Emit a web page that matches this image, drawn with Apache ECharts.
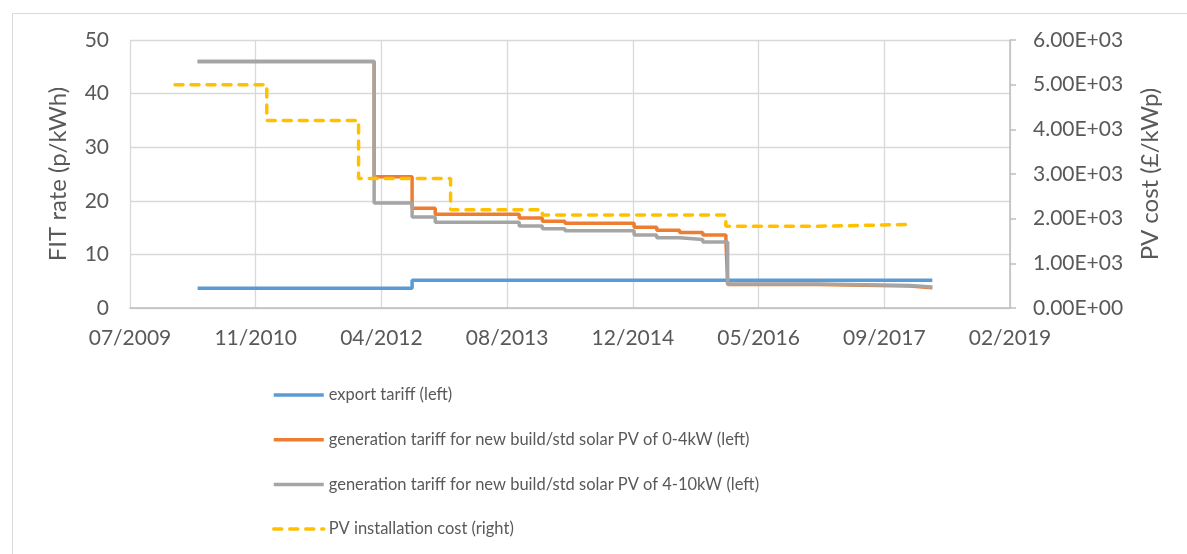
<!DOCTYPE html>
<html>
<head>
<meta charset="utf-8">
<script src="https://cdn.jsdelivr.net/npm/echarts@6/dist/echarts.min.js"></script>
<style>
  html, body { margin: 0; padding: 0; background: #fff; }
  #chart { width: 1187px; height: 554px; }
</style>
</head>
<body>
<div id="chart"></div>
<script>
// dates where each value starts (step lines), last date = end of the line
var exportDates = ['2010-04-01', '2012-08-01', '2018-04-01'];
var exportRate = [3.7, 5.2, 5.2];

var gen04Dates = ['2010-04-01', '2012-03-03', '2012-08-01', '2012-11-01', '2013-10-01', '2014-01-01',
    '2014-04-01', '2015-01-01', '2015-04-01', '2015-07-01', '2015-10-01', '2016-01-01',
    '2016-01-08', '2017-01-01', '2018-01-01', '2018-04-01'];
var gen04Rate = [46, 24.5, 18.6, 17.5, 16.8, 16.2, 15.8, 15.05, 14.5, 14.1, 13.6, 12.9,
    4.4, 4.1, 3.8, 3.8];

var gen410Dates = ['2010-04-01', '2012-03-03', '2012-08-01', '2012-11-01', '2013-10-01', '2014-01-01',
    '2014-04-01', '2015-01-01', '2015-04-01', '2015-07-01', '2015-10-01',
    '2016-01-08', '2017-01-01', '2018-01-01', '2018-04-01'];
var gen410Rate = [46, 19.6, 17.0, 16.0, 15.3, 14.8, 14.4, 13.6, 13.1, 12.8, 12.3,
    4.5, 4.2, 3.9, 3.9];

var pvDates = ['2010-01-01', '2011-01-01', '2012-01-01', '2013-01-01', '2014-01-01',
    '2016-01-01', '2017-01-01', '2018-01-01'];
var pvCost = [5000, 4200, 2900, 2200, 2080, 1830, 1870, 1870];

var seriesNames = [
    'export tariff (left)',
    'generation tariff for new build/std solar PV of 0-4kW (left)',
    'generation tariff for new build/std solar PV of 4-10kW (left)',
    'PV installation cost (right)'
];

// excel style day numbers so the axis ticks fall on the same days
var DAY = 24 * 3600 * 1000;
var BASE = Date.UTC(1899, 11, 30);
function serial(s) {
    var p = s.split('-');
    return Math.round((Date.UTC(+p[0], +p[1] - 1, +p[2]) - BASE) / DAY);
}
function pairs(dates, vals) {
    return dates.map(function (d, i) { return [serial(d), vals[i]]; });
}
function monthYear(v) {
    var d = new Date(BASE + v * DAY);
    var m = d.getUTCMonth() + 1;
    return (m < 10 ? '0' + m : m) + '/' + d.getUTCFullYear();
}
function sci(v) {
    var s = Number(v).toExponential(2).split('e');
    var e = parseInt(s[1], 10);
    var a = Math.abs(e);
    return s[0] + 'E' + (e < 0 ? '-' : '+') + (a < 10 ? '0' + a : a);
}

var FONT = 'Lato';
var TXT = '#595959';
var LW = 3.5;

var myChart = echarts.init(document.getElementById('chart'));

var option = {
    animation: false,
    textStyle: { fontFamily: FONT },
    graphic: [{
        type: 'rect',
        left: 10, top: 11,
        shape: { width: 1200, height: 600 },
        style: { fill: 'none', stroke: '#d9d9d9', lineWidth: 1 },
        silent: true
    }],
    grid: { left: 130, right: 177, top: 40, bottom: 246 },
    legend: {
        orient: 'vertical',
        left: 267,
        top: 380,
        itemWidth: 50,
        itemHeight: 20,
        itemGap: 24.7,
        data: seriesNames,
        itemStyle: { opacity: 0 },
        lineStyle: { width: 3.5 },
        textStyle: { fontFamily: FONT, fontSize: 16.5, color: TXT, lineHeight: 20 }
    },
    xAxis: {
        type: 'value',
        min: 40000,
        max: 43500,
        interval: 500,
        axisLine: { show: true, lineStyle: { color: '#bfbfbf', width: 1.5 } },
        axisTick: { show: false },
        splitLine: { show: true, lineStyle: { color: '#d9d9d9', width: 1.3 } },
        axisLabel: {
            formatter: monthYear,
            margin: 20,
            fontFamily: FONT, fontSize: 21, color: TXT
        }
    },
    yAxis: [{
        type: 'value',
        min: 0, max: 50, interval: 10,
        name: 'FIT rate (p/kWh)',
        nameLocation: 'middle',
        nameGap: 60,
        nameTextStyle: { fontFamily: FONT, fontSize: 24, color: TXT },
        axisLine: { show: false },
        axisTick: { show: false },
        splitLine: { show: true, lineStyle: { color: '#d9d9d9', width: 1.3 } },
        axisLabel: { margin: 21, fontFamily: FONT, fontSize: 21, color: TXT }
    }, {
        type: 'value',
        position: 'right',
        min: 0, max: 6000, interval: 1000,
        name: 'PV cost (£/kWp)',
        nameLocation: 'middle',
        nameGap: 128,
        nameRotate: 90,
        nameTextStyle: { fontFamily: FONT, fontSize: 24, color: TXT },
        axisLine: { show: true, lineStyle: { color: '#bfbfbf', width: 1.5 } },
        axisTick: { show: true, length: 6, lineStyle: { color: '#bfbfbf', width: 1.5 } },
        splitLine: { show: false },
        axisLabel: { margin: 23, formatter: sci, fontFamily: FONT, fontSize: 21, color: TXT }
    }],
    series: [{
        name: seriesNames[0],
        type: 'line',
        step: 'end',
        symbol: 'none',
        yAxisIndex: 0,
        data: pairs(exportDates, exportRate),
        itemStyle: { color: '#5b9bd5' },
        lineStyle: { color: '#5b9bd5', width: LW }
    }, {
        name: seriesNames[1],
        type: 'line',
        step: 'end',
        symbol: 'none',
        yAxisIndex: 0,
        data: pairs(gen04Dates, gen04Rate),
        itemStyle: { color: '#ed7d31' },
        lineStyle: { color: '#ed7d31', width: LW }
    }, {
        name: seriesNames[2],
        type: 'line',
        step: 'end',
        symbol: 'none',
        yAxisIndex: 0,
        data: pairs(gen410Dates, gen410Rate),
        itemStyle: { color: '#a5a5a5' },
        lineStyle: { color: '#a5a5a5', width: LW }
    }, {
        name: seriesNames[3],
        type: 'line',
        step: 'end',
        symbol: 'none',
        yAxisIndex: 1,
        data: pairs(pvDates, pvCost),
        itemStyle: { color: '#ffc000' },
        lineStyle: { color: '#ffc000', width: LW, type: [8, 8], cap: 'round' }
    }]
};

myChart.setOption(option);
</script>
</body>
</html>
